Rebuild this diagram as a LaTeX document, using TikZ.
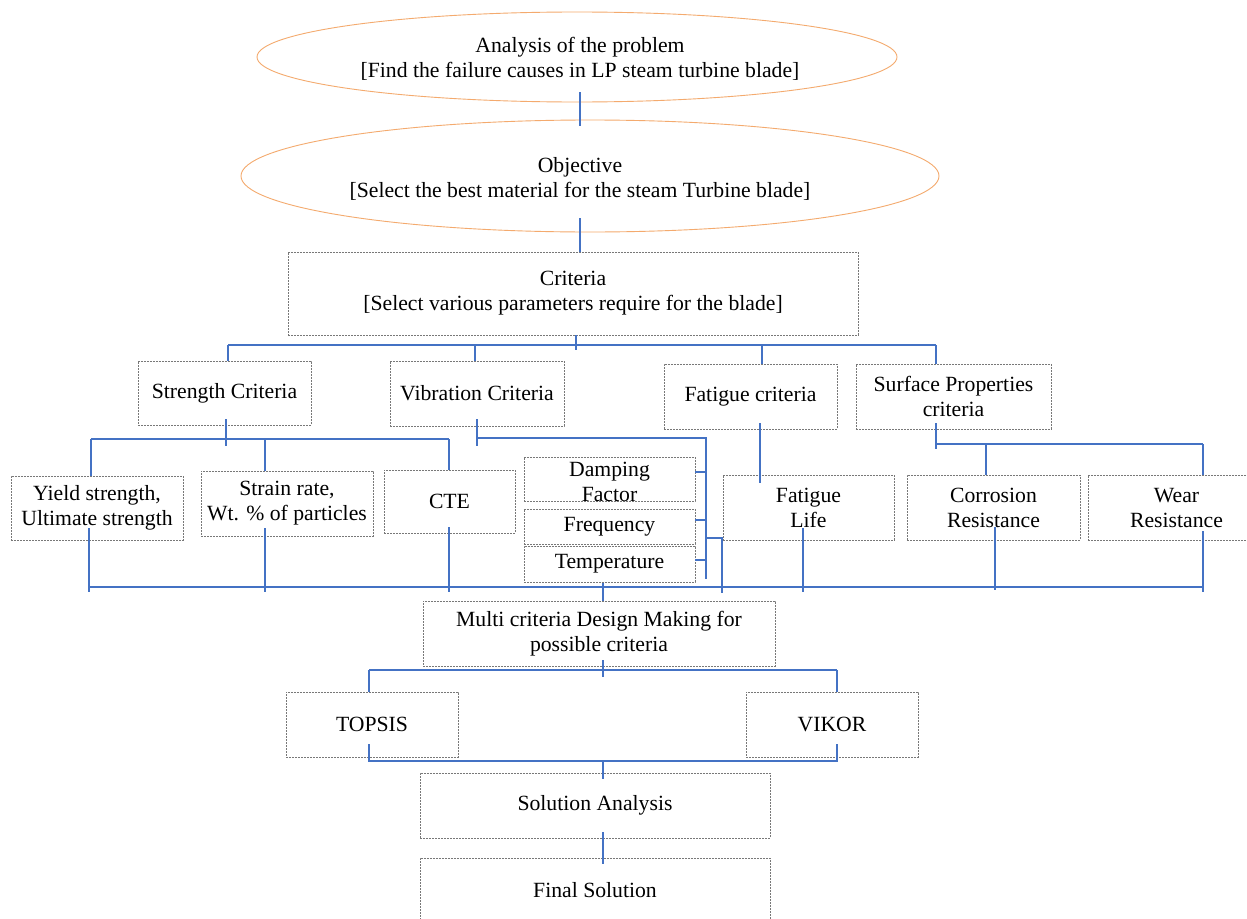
\documentclass[tikz,border=0pt]{standalone}
\usepackage{fontspec}
\setmainfont{Liberation Serif}
\usetikzlibrary{shapes.geometric,calc}
\definecolor{lnblue}{RGB}{68,114,196}
\definecolor{boxgray}{RGB}{120,120,120}
\definecolor{ellor}{RGB}{244,170,110}
\begin{document}
\begin{tikzpicture}[x=1pt,y=-1pt,
 every node/.style={font=\fontsize{21.7}{25}\selectfont, align=center, inner sep=0pt},
 bx/.style={draw=boxgray, line width=0.8pt, dash pattern=on 2pt off 1pt, rectangle},
 el/.style={draw=ellor, line width=0.9pt, ellipse},
 ln/.style={draw=lnblue, line width=2pt}]
\useasboundingbox (0,0) rectangle (1247,918);
\clip (0,0) rectangle (1247,918);
\fill[white] (0,0) rectangle (1247,918);

% ellipses
\node[el, minimum width=640pt, minimum height=90pt] (e1) at (577,57) {};
\node (t1) at (580,59) {Analysis of the problem\\{}[Find the failure causes in LP steam turbine blade]};
\node[el, minimum width=698pt, minimum height=112pt] (e2) at (590,176) {};
\node (t2) at (580,179) {Objective\\{}[Select the best material for the steam Turbine blade]};

% boxes
\node[bx, minimum width=570pt, minimum height=83pt] (crit) at (573,293.5) {Criteria\\{}[Select various parameters require for the blade]};
\node[bx, minimum width=173pt, minimum height=64pt] (str) at (224.5,393) {Strength Criteria};
\node[bx, minimum width=174pt, minimum height=65pt] (vib) at (477,393.5) {Vibration Criteria};
\node[bx, minimum width=173pt, minimum height=65pt] (fat) at (750.5,396.5) {Fatigue criteria};
\node[bx, minimum width=195pt, minimum height=65pt] (surf) at (953.5,396.5) {Surface Properties\\criteria};
\node[bx, minimum width=172pt, minimum height=64pt] (yield) at (97,508) {Yield strength,\\Ultimate strength};
\node[bx, minimum width=172pt, minimum height=65pt] (strain) at (287,503.5) {Strain rate,\\Wt. \% of particles};
\node[bx, minimum width=131pt, minimum height=63pt] (cte) at (449.5,501.5) {CTE};
\node[bx, minimum width=171pt, minimum height=44pt] (damp) at (609.5,479) {};
\node (dampt) at (609.5,482) {Damping\\Factor};
\node[bx, minimum width=171pt, minimum height=35pt] (freq) at (609.5,526.5) {Frequency};
\node[bx, minimum width=171pt, minimum height=36pt] (temp) at (609.5,564) {Temperature};
\node[bx, minimum width=171pt, minimum height=65pt] (flife) at (808.5,507.5) {Fatigue\\Life};
\node[bx, minimum width=173pt, minimum height=65pt] (corr) at (993.5,507.5) {Corrosion\\Resistance};
\node[bx, minimum width=177pt, minimum height=65pt] (wear) at (1176.5,507.5) {Wear\\Resistance};
\node[bx, minimum width=352pt, minimum height=65pt] (multi) at (599,633.5) {Multi criteria Design Making for\\possible criteria};
\node[bx, minimum width=172pt, minimum height=65pt] (topsis) at (372,724.5) {TOPSIS};
\node[bx, minimum width=172pt, minimum height=65pt] (vikor) at (832,724.5) {VIKOR};
\node[bx, minimum width=350pt, minimum height=65pt] (sol) at (595,805.5) {Solution Analysis};
\node[bx, minimum width=350pt, minimum height=65pt] (final) at (595,890.5) {Final Solution};

% top connectors
\draw[ln] ($(e1.south -| t1)+(0,-10)$) -- ($(e2.north -| t1)+(0,6)$);
\draw[ln] ($(e2.south -| t2)+(0,-14)$) -- (crit.north -| t2);

\coordinate (bus1) at (576,345);
\coordinate (d1) at (228,345);
\coordinate (d2) at (475,345);
\coordinate (d3) at (762,345);
\coordinate (d4) at (936,345);
\draw[ln] (crit.south -| bus1) -- ($(bus1)+(0,5)$);
\draw[ln] (d1) -- (d4);
\draw[ln] (d1) -- (d1 |- str.north);
\draw[ln] (d2) -- (d2 |- vib.north);
\draw[ln] (d3) -- (d3 |- fat.north);
\draw[ln] (d4) -- (d4 |- surf.north);

% strength group
\coordinate (s0) at (226,439);
\coordinate (sL) at (91,439);
\coordinate (sM) at (265,439);
\coordinate (sR) at (449,439);
\draw[ln] ($(str.south -| s0)+(0,-6)$) -- ($(s0)+(0,7)$);
\draw[ln] (sL) -- (sR);
\draw[ln] (sL) -- (sL |- yield.north);
\draw[ln] (sM) -- (sM |- strain.north);
\draw[ln] (sR) -- (sR |- cte.north);

% vibration group
\coordinate (v0) at (477,438);
\coordinate (vR) at (706,438);
\coordinate (vB) at (706,579);
\draw[ln] ($(vib.south -| v0)+(0,-7)$) -- ($(v0)+(0,8)$);
\draw[ln] (v0) -- (vR) -- (vB);
\draw[ln] ($(damp.east)+(0,-7)$) -- ($(damp.east -| vR)+(0,-7)$);
\draw[ln] ($(freq.east)+(0,-6.5)$) -- ($(freq.east -| vR)+(0,-6.5)$);
\draw[ln] ($(temp.east)+(0,-4)$) -- ($(temp.east -| vR)+(0,-4)$);
\coordinate (vJ) at (706,538);
\coordinate (vK) at (722,538);
\coordinate (vKb) at (722,593);
\draw[ln] (vJ) -- (vK) -- (vKb);

% fatigue
\coordinate (f0) at (760,423);
\draw[ln] (f0) -- ($(f0 |- flife.north)+(0,8)$);

% surface group
\coordinate (u0) at (936,444);
\coordinate (uM) at (986,444);
\coordinate (uR) at (1203,444);
\draw[ln] ($(u0)+(0,-21)$) -- ($(u0)+(0,5)$);
\draw[ln] (u0) -- (uR);
\draw[ln] (uM) -- (uM |- corr.north);
\draw[ln] (uR) -- (uR |- wear.north);

% bottom bus
\coordinate (bL) at (89,587);
\coordinate (bR) at (1203,587);
\coordinate (x1) at (89,592);
\coordinate (x2) at (265,592);
\coordinate (x3) at (449,592);
\coordinate (x4) at (803,592);
\coordinate (x5) at (995,590);
\coordinate (x6) at (1203,592);
\draw[ln] (bL) -- (bR);
\draw[ln] ($(yield.center -| x1)+(0,20)$) -- (x1);
\draw[ln] ($(strain.center -| x2)+(0,24.5)$) -- (x2);
\draw[ln] ($(cte.center -| x3)+(0,25.5)$) -- (x3);
\draw[ln] ($(flife.center -| x4)+(0,20.5)$) -- (x4);
\draw[ln] ($(corr.center -| x5)+(0,19.5)$) -- (x5);
\draw[ln] ($(wear.center -| x6)+(0,23.5)$) -- (x6);

\coordinate (bm) at (603,587);
\draw[ln] ($(bm)+(0,-4)$) -- (multi.north -| bm);

% MCDM group
\coordinate (m0) at (603,670);
\coordinate (mL) at (369,670);
\coordinate (mR) at (837,670);
\draw[ln] ($(m0)+(0,-10)$) -- ($(m0)+(0,7)$);
\draw[ln] (mL) -- (mR);
\draw[ln] (mL) -- (mL |- topsis.north);
\draw[ln] (mR) -- (mR |- vikor.north);

\coordinate (nL) at (369,761);
\coordinate (nR) at (837,761);
\coordinate (n0) at (603,761);
\draw[ln] ($(nL)+(0,-17)$) -- (nL) -- (nR) -- ($(nR)+(0,-17)$);
\draw[ln] (n0) -- ($(n0)+(0,18)$);
\draw[ln] ($(sol.south -| n0)+(0,-6)$) -- ($(final.north -| n0)+(0,6)$);
\end{tikzpicture}
\end{document}
